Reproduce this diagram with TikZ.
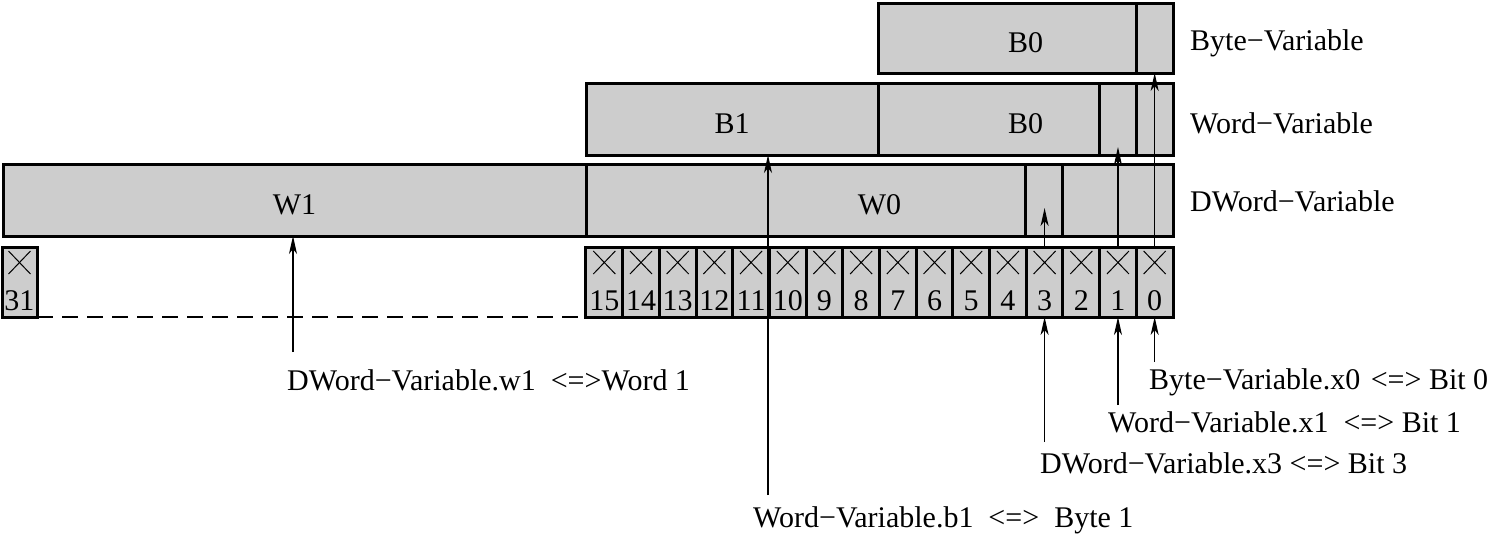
\documentclass[tikz,border=0pt]{standalone}
\usepackage{fontspec}
\setmainfont{Liberation Serif}
\usetikzlibrary{arrows.meta}
\definecolor{boxgray}{RGB}{205,205,205}
\begin{document}
\begin{tikzpicture}[x=1pt,y=-1pt,
  every node/.style={font=\fontsize{30}{36}\selectfont},
  box/.style={draw,fill=boxgray,line width=3pt,inner sep=0pt,outer sep=0pt,anchor=north west,minimum height=#1,text height=28pt,text depth=0pt},
  box/.default=71,
  cell/.style={draw,fill=boxgray,line width=3pt,inner sep=0pt,outer sep=0pt,anchor=north west,
    minimum width=36.69pt,minimum height=70pt,
    path picture={\draw[line width=1pt]
      ([xshift=-11pt,yshift=-4pt]path picture bounding box.north) -- ([xshift=11pt,yshift=-27pt]path picture bounding box.north)
      ([xshift=11pt,yshift=-4pt]path picture bounding box.north) -- ([xshift=-11pt,yshift=-27pt]path picture bounding box.north);}},
  num/.style={anchor=base,inner sep=0pt},
  lbl/.style={anchor=west,inner sep=0pt},
  arr/.style={line width=1.2pt,-{Stealth[length=18pt,width=8pt,inset=5pt]}},
  dashline/.style={line width=1.4pt,dash pattern=on 16pt off 9pt}]
\useasboundingbox (0,0) rectangle (1491,536);

% Byte-Variable
\node[box=70,minimum width=295pt] (byteV) at (878,3) {B0};
\node[box=70,minimum width=37pt] (byteX0) at (1136,3) {};
% Word-Variable
\node[box=72,minimum width=292pt] (wB1) at (586,83) {B1};
\node[box=72,minimum width=295pt] (wB0) at (878,83) {B0};
\node[box=72,minimum width=37pt] (wX1) at (1099,83) {};
\node[box=72,minimum width=37pt] (wX0) at (1136,83) {};
% DWord-Variable
\node[box=72,minimum width=583pt] (dW1) at (3,164) {W1};
\node[box=72,minimum width=587pt] (dW0) at (586,164) {W0};
\node[box=72,minimum width=37pt] (dX3) at (1025,164) {};

% right labels
\node[lbl] (lByte) at (1190,43) {Byte−Variable};
\node[lbl] (lWord) at (1190,123) {Word−Variable};
\node[lbl] (lDWord) at (1190,201) {DWord−Variable};

% bit cells
\node[cell,minimum width=35pt] (c31) at (2,247) {};
\node[num] at ([yshift=7pt]c31.south) {31};
\foreach \i in {0,...,15}{
  \node[cell] (c\i) at ({1173-(\i+1)*36.69},247) {};
  \node[num] at ([yshift=7pt]c\i.south) {\i};
}
\draw[dashline] (c31.south east) -- (c15.south west);

% labels below
\node[lbl] (lW1) at (287,380) {DWord−Variable.w1\ \ <=>Word 1};
\node[lbl] (lB1) at (753,520) {Word−Variable.b1\ \ <=>\ \ Byte 1};
\node[lbl] (lX0) at (1149,382) {Byte−Variable.x0\ \hspace{0.1em}<=> Bit 0};
\node[lbl] (lX1) at (1108,422) {Word−Variable.x1\ \ <=> Bit 1};
\node[lbl] (lX3) at (1040,463) {DWord−Variable.x3 <=> Bit 3};

% arrow start points
\coordinate (sW1) at (293,352);
\coordinate (sB1) at (768,495);
\coordinate (s3) at (c3.center |- 0,442);
\coordinate (s1) at (c1.center |- 0,405);
\coordinate (s0) at (c0.center |- 0,362);

\draw[arr] (sW1) -- (sW1 |- dW1.south);
\draw[arr] (sB1) -- (sB1 |- wB1.south);
\draw[arr] (s3) -- (c3.south);
\draw[arr] (c3.north) -- ([yshift=28pt]c3.north |- dX3.south);
\draw[arr] (s1) -- (c1.south);
\draw[arr] (c1.north) -- ([yshift=8pt]c1.north |- wX1.south);
\draw[arr] (s0) -- (c0.south);
\draw[arr] (c0.north) -- (c0.north |- byteX0.south);
\end{tikzpicture}
\end{document}
